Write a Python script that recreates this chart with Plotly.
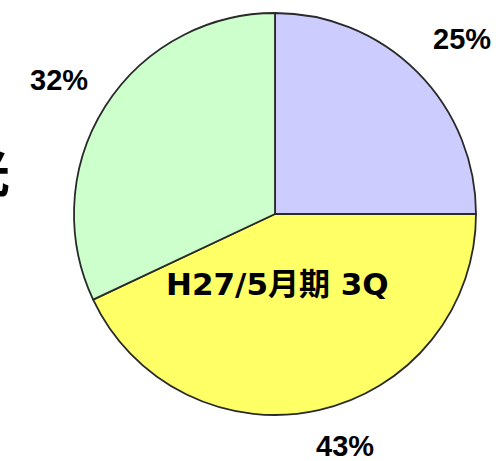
import plotly.graph_objects as go

labels = ["A", "B", "C"]
values = [25, 43, 32]
pct_labels = ["25%", "43%", "32%"]
colors = ["#CCCCFF", "#FFFF66", "#CCFFCC"]
center_title = "H27/5月期 3Q"
side_char = "光"

W, H = 501, 461
cx, cy, r = 275, 214, 201

fig = go.Figure(go.Pie(
    labels=labels, values=values, sort=False, direction="clockwise", rotation=0,
    marker=dict(colors=colors, line=dict(color="#2a2a2a", width=1.8)),
    textinfo="none", hoverinfo="none", showlegend=False,
    domain=dict(x=[(cx - r) / W, (cx + r) / W], y=[(H - cy - r) / H, (H - cy + r) / H]),
))

def px(x, y):
    return x / W, 1 - y / H

font_b = dict(family="Liberation Sans, Arial, sans-serif", size=29, color="black")
pos = {"25%": (462, 39), "43%": (345, 446), "32%": (59, 80)}
for t in pct_labels:
    x, y = px(*pos[t])
    fig.add_annotation(x=x, y=y, xref="paper", yref="paper", text="<b>" + t + "</b>",
                       showarrow=False, font=font_b, xanchor="center", yanchor="middle")

x, y = px(277.5, 284)
fig.add_annotation(x=x, y=y, xref="paper", yref="paper", text="<b>" + center_title + "</b>",
                   showarrow=False, xanchor="center", yanchor="middle",
                   font=dict(family="DejaVu Sans, Noto Sans CJK JP, sans-serif", size=31, color="black"))

x, y = px(12, 170)
fig.add_annotation(x=x, y=y, xref="paper", yref="paper", text="<b>" + side_char + "</b>",
                   showarrow=False, xanchor="right", yanchor="middle",
                   font=dict(family="Noto Sans CJK JP, sans-serif", size=50, color="black"))

fig.update_layout(width=W, height=H, margin=dict(l=0, r=0, t=0, b=0),
                  paper_bgcolor="white", plot_bgcolor="white")
fig.write_html("out.html", config={"displayModeBar": False},
               post_script="document.body.style.margin='0';")
